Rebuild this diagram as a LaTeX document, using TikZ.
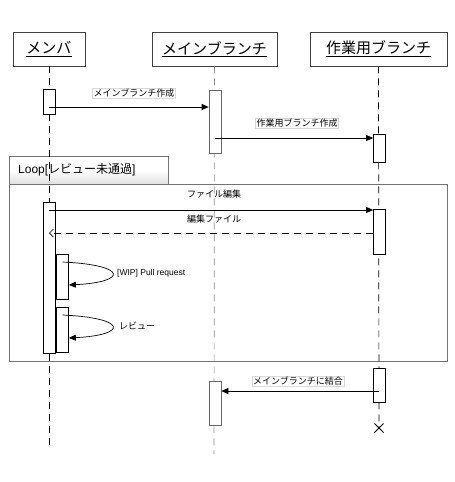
\documentclass[tikz,border=0pt]{standalone}
\usepackage{fontspec}
\setmainfont{Liberation Sans}
\newfontfamily\cjk{Noto Sans CJK JP}
\usetikzlibrary{arrows.meta,calc}
\begin{document}
\begin{tikzpicture}[x=1pt,y=-1pt,
  head/.style={draw=black!75, line width=0.8pt, fill=white, inner sep=0pt, minimum height=34pt, font=\cjk\fontsize{15}{15}\selectfont},
  act/.style={draw=black, line width=0.7pt, fill=white, minimum width=12pt, inner sep=0pt},
  actg/.style={act, draw=black!60},
  life/.style={line width=0.7pt, dash pattern=on 7pt off 5pt},
  msg/.style={line width=0.7pt, -{Triangle[length=7pt,width=6pt]}},
  ret/.style={line width=0.7pt, dash pattern=on 7pt off 5pt, -{Straight Barb[length=4pt,width=8pt]}},
  lbl/.style={font=\cjk\fontsize{9}{9}\selectfont, inner sep=1pt},
  lblb/.style={lbl, draw=black!15, fill=white},
]
\useasboundingbox (0,0) rectangle (455,482);
% headers
\node[head, minimum width=72pt] (hm) at (49,49) {\underline{メンバ}};
\node[head, minimum width=125pt] (hb) at (214.5,49) {\underline{メインブランチ}};
\node[head, minimum width=137pt] (hw) at (378.5,49) {\underline{作業用ブランチ}};
% loop frame
\draw[black!55, line width=0.8pt] (9,184) rectangle (447,361);
\draw[black!55, line width=0.8pt, top color=white, bottom color=black!12, middle color=white] (9,156) rectangle (168,184);
\node[font=\fontsize{12}{12}\selectfont, anchor=west, inner sep=0pt] (lp) at (18,170) {Loop[{\cjk レビュー未通過}]};
% lifelines
\coordinate (em) at (49,447);
\coordinate (eb) at (214,454);
\coordinate (ew) at (379,428);
\draw[life] (hm.south) -- (em);
\draw[life, black!45] (hb.south) -- (eb);
\draw[life] (hw.south) -- (ew);
\draw[line width=0.8pt] ($(ew)+(-4.5,-4.5)$) -- ++(9,9) ($(ew)+(4.5,-4.5)$) -- ++(-9,9);
% activation boxes
\node[act, minimum height=25pt] (m1) at (49,101.5) {};
\node[actg, minimum height=63pt] (b1) at (215,121.5) {};
\node[act, minimum height=28pt] (w1) at (379.5,148) {};
\node[act, minimum height=151pt] (m2) at (49,277.5) {};
\node[act, minimum height=45pt] (w2) at (379.5,231.5) {};
\node[act, minimum height=45pt] (m3) at (62.5,276.5) {};
\node[act, minimum height=45pt] (m4) at (62.5,329.5) {};
\node[actg, minimum height=44pt] (b2) at (215,403) {};
\node[act, minimum height=34pt] (w3) at (379,385) {};
% messages
\draw[msg] (m1.center |- 0,107) -- (b1.west |- 0,107);
\node[lblb] (t1) at (134,93) {メインブランチ作成};
\draw[msg] (b1.center |- 0,138) -- (w1.west |- 0,138);
\node[lblb] (t2) at (297,123) {作業用ブランチ作成};
\draw[msg] (m2.center |- 0,210) -- (w2.west |- 0,210);
\node[lbl] (t3) at (214,194) {ファイル編集};
\draw[ret] (w2.west |- 0,233) -- (m2.center |- 0,233);
\node[lbl] (t4) at (214,219) {編集ファイル};
\draw[msg] (m3.center |- 0,262) .. controls (128,265) and (128,282) .. (m3.east |- 0,285);
\node[lbl, anchor=west, font=\fontsize{8.5}{9}\selectfont] (t5) at (116,273) {[WIP] Pull request};
\draw[msg] (m4.center |- 0,315) .. controls (128,318) and (128,335) .. (m4.east |- 0,338);
\node[lbl, anchor=west] (t6) at (118,326) {レビュー};
\draw[msg] (w3.center |- 0,391) -- (b2.east |- 0,391);
\node[lblb] (t7) at (298,381) {メインブランチに結合};
\end{tikzpicture}
\end{document}
